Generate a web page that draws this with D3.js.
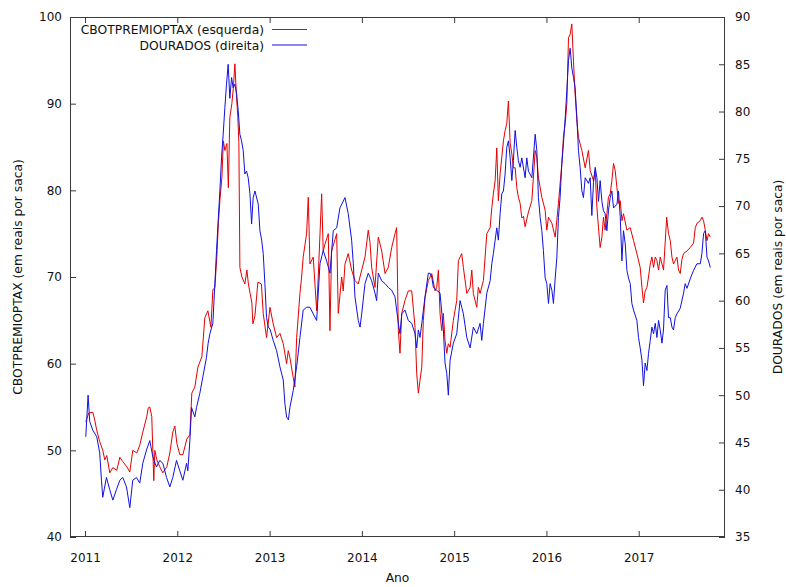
<!DOCTYPE html>
<html>
<head>
<meta charset="utf-8">
<script src="https://cdn.jsdelivr.net/npm/d3@7"></script>
<style>
  body { margin: 0; background: #fff; }
  svg { display: block; }
  text { font-family: "DejaVu Sans", Verdana, sans-serif; fill: #111; }
</style>
</head>
<body>
<svg id="chart" width="786" height="587"></svg>
<script>
// Axis ticks
const yearTicks  = [2011, 2012, 2013, 2014, 2015, 2016, 2017];
const leftTicks  = [40, 50, 60, 70, 80, 90, 100];
const rightTicks = [35, 40, 45, 50, 55, 60, 65, 70, 75, 80, 85, 90];

// CBOTPREMIOPTAX (left axis), R$ per saca, dated in decimal years
const redYears = [
  2011.008,2011.040,2011.084,2011.105,2011.127,2011.159,2011.192,2011.214,2011.236,2011.268,
  2011.301,2011.344,2011.377,2011.409,2011.453,2011.485,2011.517,2011.561,2011.593,2011.626,
  2011.669,2011.685,2011.702,2011.723,2011.745,2011.756,2011.778,2011.810,2011.843,2011.886,
  2011.919,2011.951,2011.973,2011.995,2012.027,2012.060,2012.103,2012.136,2012.157,2012.190,
  2012.223,2012.266,2012.298,2012.331,2012.364,2012.385,2012.407,2012.428,2012.445,2012.461,
  2012.483,2012.499,2012.515,2012.537,2012.553,2012.569,2012.591,2012.607,2012.624,2012.640,
  2012.656,2012.667,2012.678,2012.700,2012.732,2012.754,2012.770,2012.808,2012.819,2012.841,
  2012.873,2012.911,2012.931,2012.967,2013.004,2013.039,2013.076,2013.112,2013.148,2013.184,
  2013.202,2013.220,2013.256,2013.274,2013.293,2013.329,2013.347,2013.364,2013.401,2013.419,
  2013.437,2013.473,2013.510,2013.527,2013.564,2013.581,2013.600,2013.636,2013.654,2013.672,
  2013.727,2013.744,2013.781,2013.798,2013.817,2013.852,2013.889,2013.925,2013.961,2013.998,
  2014.034,2014.069,2014.088,2014.106,2014.142,2014.178,2014.215,2014.251,2014.286,2014.323,
  2014.359,2014.377,2014.395,2014.413,2014.432,2014.467,2014.503,2014.540,2014.576,2014.594,
  2014.612,2014.630,2014.649,2014.666,2014.684,2014.720,2014.757,2014.793,2014.811,2014.829,
  2014.847,2014.865,2014.883,2014.901,2014.920,2014.937,2014.956,2014.991,2015.028,2015.046,
  2015.082,2015.100,2015.137,2015.173,2015.191,2015.208,2015.245,2015.262,2015.281,2015.317,
  2015.354,2015.390,2015.408,2015.425,2015.444,2015.462,2015.479,2015.498,2015.534,2015.552,
  2015.570,2015.588,2015.607,2015.625,2015.642,2015.661,2015.679,2015.696,2015.715,2015.733,
  2015.751,2015.769,2015.805,2015.842,2015.878,2015.896,2015.913,2015.950,2015.986,2016.004,
  2016.022,2016.059,2016.095,2016.130,2016.167,2016.184,2016.203,2016.221,2016.239,2016.257,
  2016.275,2016.293,2016.311,2016.330,2016.347,2016.384,2016.420,2016.455,2016.474,2016.510,
  2016.528,2016.547,2016.564,2016.582,2016.601,2016.618,2016.636,2016.655,2016.672,2016.691,
  2016.709,2016.727,2016.745,2016.764,2016.781,2016.800,2016.818,2016.835,2016.872,2016.908,
  2016.944,2016.980,2017.016,2017.035,2017.052,2017.070,2017.089,2017.106,2017.125,2017.143,
  2017.161,2017.179,2017.197,2017.215,2017.233,2017.269,2017.303,2017.323,2017.342,2017.360,
  2017.377,2017.414,2017.432,2017.450,2017.468,2017.486,2017.523,2017.558,2017.594,2017.613,
  2017.631,2017.667,2017.685,2017.703,2017.721,2017.740,2017.757,2017.776
];
const redValues = [
  53.3,54.3,54.4,53.5,52.3,51.0,50.0,48.9,49.4,47.4,
  48.0,47.7,49.2,48.7,48.1,47.5,50.0,49.7,50.6,52.1,
  53.9,54.9,55.0,53.9,46.5,50.0,48.9,48.1,47.4,48.1,
  49.7,52.1,52.8,50.8,49.5,49.5,51.3,51.8,56.6,57.3,
  59.6,60.8,65.3,66.1,64.2,68.5,68.8,72.3,76.2,78.8,
  81.5,85.7,84.6,85.4,80.3,88.4,90.0,91.8,94.6,91.1,
  88.4,85.5,71.1,70.0,69.2,70.8,69.2,67.0,64.6,65.5,
  69.4,69.2,65.8,63.0,66.5,64.6,63.0,63.5,62.3,60.0,
  61.5,60.7,58.4,57.3,63.0,68.1,70.0,72.3,75.0,79.2,
  71.5,72.3,66.1,70.0,79.6,73.0,73.8,75.0,63.8,73.0,
  75.0,65.8,70.0,68.4,71.5,72.7,70.8,69.6,69.2,70.8,
  72.3,75.4,74.0,71.1,68.8,74.6,73.0,70.4,71.1,73.4,
  75.0,75.7,63.8,61.2,65.8,67.3,68.4,68.4,64.2,58.9,
  56.6,58.1,59.6,65.0,67.6,69.6,70.4,68.4,68.8,70.8,
  65.8,63.8,65.8,62.7,61.2,62.3,61.9,65.0,67.3,71.9,
  72.7,71.1,68.1,68.8,70.8,68.1,66.5,68.8,68.1,69.6,
  75.0,75.7,78.0,79.6,81.1,84.9,78.8,81.9,85.7,86.9,
  87.7,90.3,85.4,84.2,82.6,82.6,80.3,79.2,78.5,76.8,
  77.0,75.8,77.5,78.8,84.6,83.8,81.5,79.2,77.7,75.4,
  76.9,76.2,74.6,78.5,83.1,86.1,87.7,90.0,97.6,98.0,
  99.2,94.9,91.1,88.0,86.1,84.6,82.6,84.6,82.3,81.1,
  82.3,78.0,75.7,73.4,74.6,76.9,75.4,77.3,79.2,79.6,
  81.1,83.1,82.3,80.3,78.5,78.8,76.5,77.3,75.4,75.7,
  74.2,72.7,71.1,68.8,67.0,68.4,68.8,70.0,71.5,72.3,
  71.1,72.3,71.9,70.8,72.3,70.8,76.9,75.0,74.2,72.3,
  71.5,72.3,70.8,70.4,72.0,72.7,73.0,73.4,73.9,75.7,
  76.2,76.5,76.9,76.5,75.4,74.2,75.0,74.6
];

// DOURADOS (right axis), R$ per saca, dated in decimal years
const blueYears = [
  2011.008,2011.033,2011.051,2011.084,2011.127,2011.159,2011.178,2011.192,2011.232,2011.268,
  2011.301,2011.340,2011.377,2011.409,2011.449,2011.485,2011.517,2011.557,2011.593,2011.626,
  2011.666,2011.702,2011.734,2011.774,2011.810,2011.843,2011.883,2011.919,2011.951,2011.991,
  2012.027,2012.060,2012.100,2012.114,2012.136,2012.154,2012.190,2012.208,2012.244,2012.276,
  2012.316,2012.334,2012.353,2012.385,2012.407,2012.425,2012.443,2012.461,2012.479,2012.497,
  2012.515,2012.533,2012.551,2012.569,2012.588,2012.605,2012.624,2012.642,2012.660,2012.678,
  2012.696,2012.714,2012.732,2012.750,2012.768,2012.787,2012.805,2012.822,2012.841,2012.877,
  2012.895,2012.914,2012.931,2012.949,2012.967,2012.985,2013.004,2013.039,2013.076,2013.112,
  2013.148,2013.166,2013.184,2013.204,2013.220,2013.256,2013.293,2013.329,2013.364,2013.401,
  2013.437,2013.473,2013.510,2013.546,2013.581,2013.618,2013.654,2013.690,2013.727,2013.762,
  2013.817,2013.852,2013.889,2013.907,2013.925,2013.961,2013.980,2013.998,2014.034,2014.069,
  2014.106,2014.142,2014.160,2014.178,2014.215,2014.251,2014.286,2014.323,2014.359,2014.395,
  2014.413,2014.432,2014.467,2014.503,2014.540,2014.576,2014.594,2014.612,2014.630,2014.649,
  2014.684,2014.720,2014.739,2014.757,2014.775,2014.811,2014.847,2014.883,2014.901,2014.920,
  2014.937,2014.956,2014.991,2015.028,2015.064,2015.082,2015.100,2015.137,2015.173,2015.208,
  2015.245,2015.281,2015.299,2015.317,2015.354,2015.390,2015.408,2015.425,2015.444,2015.462,
  2015.479,2015.498,2015.516,2015.534,2015.552,2015.570,2015.588,2015.607,2015.625,2015.642,
  2015.661,2015.679,2015.696,2015.715,2015.733,2015.769,2015.787,2015.805,2015.842,2015.878,
  2015.896,2015.913,2015.932,2015.950,2015.967,2015.986,2016.004,2016.022,2016.040,2016.059,
  2016.076,2016.095,2016.113,2016.130,2016.148,2016.167,2016.184,2016.203,2016.221,2016.239,
  2016.257,2016.275,2016.293,2016.311,2016.330,2016.347,2016.365,2016.384,2016.401,2016.420,
  2016.455,2016.474,2016.492,2016.510,2016.528,2016.547,2016.564,2016.582,2016.601,2016.618,
  2016.636,2016.655,2016.672,2016.691,2016.709,2016.727,2016.764,2016.781,2016.800,2016.818,
  2016.835,2016.854,2016.872,2016.889,2016.908,2016.926,2016.944,2016.980,2016.998,2017.016,
  2017.035,2017.052,2017.070,2017.089,2017.106,2017.125,2017.143,2017.161,2017.179,2017.197,
  2017.215,2017.233,2017.252,2017.269,2017.287,2017.306,2017.323,2017.342,2017.360,2017.377,
  2017.396,2017.414,2017.450,2017.486,2017.504,2017.523,2017.558,2017.594,2017.631,2017.667,
  2017.685,2017.703,2017.721,2017.740,2017.757,2017.776
];
const blueValues = [
  45.6,50.0,47.2,46.3,45.6,43.9,41.0,39.2,41.3,40.0,
  38.9,40.0,41.0,41.3,40.3,38.1,41.0,41.3,40.7,42.8,
  44.2,45.2,43.5,42.4,43.1,42.8,41.3,40.3,41.3,43.1,
  42.0,41.0,42.8,42.0,45.2,48.7,47.7,48.7,50.2,51.9,
  54.0,55.5,56.5,57.6,61.8,65.3,68.5,71.6,75.1,77.6,
  80.4,82.9,85.0,81.4,83.6,82.5,82.9,81.9,80.1,77.6,
  76.9,75.9,73.4,73.7,73.0,71.3,68.1,70.9,71.6,70.2,
  67.4,66.4,65.0,61.8,58.2,57.2,57.0,55.8,54.7,53.0,
  51.6,49.1,47.7,47.4,48.7,50.5,53.0,56.1,59.0,59.3,
  59.3,58.6,57.9,63.9,65.3,64.2,62.9,67.4,67.7,69.8,
  70.9,69.2,66.4,63.9,60.4,57.9,57.2,58.6,61.8,62.9,
  62.1,60.8,60.0,62.9,62.1,61.8,61.4,61.1,60.4,57.6,
  56.5,58.6,59.0,57.9,57.6,56.5,55.0,56.9,56.1,57.6,
  60.4,62.9,62.9,62.5,61.4,61.1,60.8,56.9,53.4,52.3,
  50.0,53.7,55.5,56.5,60.0,59.3,58.6,56.1,55.0,57.2,
  56.5,57.6,55.8,57.6,60.8,62.1,63.9,65.0,66.4,67.7,
  66.4,69.2,71.3,71.6,73.4,76.2,76.9,75.1,72.7,74.8,
  78.0,76.2,74.8,74.1,75.1,73.0,75.1,73.7,73.0,77.6,
  75.9,70.9,68.8,67.4,65.3,62.4,61.8,59.7,61.8,61.1,
  59.7,62.4,64.6,68.8,70.9,74.5,76.6,79.3,82.2,85.4,
  86.7,84.6,83.6,82.5,79.3,75.9,74.1,71.6,70.9,73.0,
  72.4,73.0,69.0,72.5,74.1,73.0,70.5,72.7,70.5,69.5,
  69.2,67.4,69.5,70.9,71.6,69.8,70.2,71.6,68.8,64.2,
  67.4,66.0,63.2,62.4,61.8,59.7,59.0,57.9,56.1,55.0,
  53.7,51.0,53.4,52.6,54.4,55.8,57.2,56.5,57.6,56.1,
  57.9,56.9,55.5,57.0,61.1,61.6,58.2,58.2,57.2,56.9,
  58.2,58.6,59.2,60.8,61.8,61.3,62.3,63.2,63.9,63.9,
  65.0,67.1,67.4,64.6,64.2,63.5
];

const redSeries  = redYears.map((t, i) => ({ t, v: redValues[i] }));
const blueSeries = blueYears.map((t, i) => ({ t, v: blueValues[i] }));

const svg = d3.select("#chart");
const frame = { left: 70, right: 725, top: 17, bottom: 537 };
const axisColor = "#3a3a3a";

const x  = d3.scaleLinear().domain([2010.837, 2017.935]).range([frame.left, frame.right]);
const yL = d3.scaleLinear().domain([40, 100]).range([frame.bottom, frame.top]);
const yR = d3.scaleLinear().domain([35, 90]).range([frame.bottom, frame.top]);

svg.append("defs").append("clipPath").attr("id", "plotClip")
  .append("rect")
  .attr("x", frame.left).attr("y", frame.top)
  .attr("width", frame.right - frame.left).attr("height", frame.bottom - frame.top);

function styleAxis(g) {
  g.select(".domain").remove();
  g.selectAll(".tick line").attr("stroke", axisColor);
  g.selectAll(".tick text").attr("font-size", 12).attr("fill", "#111")
    .attr("font-family", "\"DejaVu Sans\", Verdana, sans-serif");
}

// bottom axis with year labels, ticks pointing inward
svg.append("g").attr("transform", `translate(0,${frame.bottom})`)
  .call(d3.axisBottom(x).tickValues(yearTicks).tickFormat(d3.format("d"))
    .tickSizeInner(-6).tickSizeOuter(0).tickPadding(16))
  .call(styleAxis);

// mirrored top ticks
svg.append("g").attr("transform", `translate(0,${frame.top})`)
  .call(d3.axisTop(x).tickValues(yearTicks).tickFormat("")
    .tickSizeInner(-6).tickSizeOuter(0))
  .call(styleAxis);

// left axis
svg.append("g").attr("transform", `translate(${frame.left},0)`)
  .call(d3.axisLeft(yL).tickValues(leftTicks).tickFormat(d3.format("d"))
    .tickSizeInner(-6).tickSizeOuter(0).tickPadding(8))
  .call(styleAxis);

// right axis
svg.append("g").attr("transform", `translate(${frame.right},0)`)
  .call(d3.axisRight(yR).tickValues(rightTicks).tickFormat(d3.format("d"))
    .tickSizeInner(-6).tickSizeOuter(0).tickPadding(10))
  .call(styleAxis);

// plot border
svg.append("rect")
  .attr("x", frame.left + 0.5).attr("y", frame.top + 0.5)
  .attr("width", frame.right - frame.left - 1).attr("height", frame.bottom - frame.top - 1)
  .attr("fill", "none").attr("stroke", axisColor).attr("stroke-width", 1);

const lineL = d3.line().x(d => x(d.t)).y(d => yL(d.v));
const lineR = d3.line().x(d => x(d.t)).y(d => yR(d.v));

const plot = svg.append("g").attr("clip-path", "url(#plotClip)");
plot.append("path").datum(redSeries)
  .attr("d", lineL).attr("fill", "none").attr("stroke", "#e60000").attr("stroke-width", 1);
plot.append("path").datum(blueSeries)
  .attr("d", lineR).attr("fill", "none").attr("stroke", "#1010e0").attr("stroke-width", 1);

// legend
const legendItems = [
  { label: "CBOTPREMIOPTAX (esquerda)", color: "#e60000", y: 30 },
  { label: "DOURADOS (direita)", color: "#1010e0", y: 45.5 }
];
const legend = svg.append("g");
legendItems.forEach(item => {
  legend.append("text")
    .attr("x", 264).attr("y", item.y).attr("dy", "0.35em")
    .attr("text-anchor", "end").attr("font-size", 12.3)
    .text(item.label);
  legend.append("line")
    .attr("x1", 272).attr("x2", 307)
    .attr("y1", item.y - 0.5).attr("y2", item.y - 0.5)
    .attr("stroke", item.color).attr("stroke-width", 1);
});

// axis titles
svg.append("text")
  .attr("x", (frame.left + frame.right) / 2).attr("y", 582)
  .attr("text-anchor", "middle").attr("font-size", 12.3)
  .text("Ano");

svg.append("text")
  .attr("transform", `translate(18,${(frame.top + frame.bottom) / 2}) rotate(-90)`)
  .attr("text-anchor", "middle").attr("dy", "0.35em").attr("font-size", 12.3)
  .text("CBOTPREMIOPTAX (em reais por saca)");

svg.append("text")
  .attr("transform", `translate(778,${(frame.top + frame.bottom) / 2}) rotate(-90)`)
  .attr("text-anchor", "middle").attr("dy", "0.35em").attr("font-size", 12.3)
  .text("DOURADOS (em reais por saca)");
</script>
</body>
</html>
